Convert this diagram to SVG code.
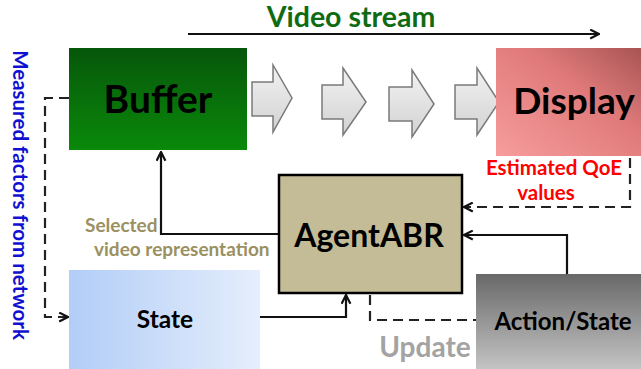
<svg xmlns="http://www.w3.org/2000/svg" width="641" height="369" viewBox="0 0 641 369">
<defs>
<style>
text{font-family:Lato,"Open Sans","Liberation Sans",sans-serif;font-weight:bold}
.lbl{fill:#000}
.sol{fill:none;stroke:#111;stroke-width:2.2}
.dash{fill:none;stroke:#222;stroke-width:2.2;stroke-dasharray:10 6}
.garrow{fill:url(#gArrow);stroke:#7a7a7a;stroke-width:1.5;stroke-linejoin:miter}
</style>
<marker id="ah" viewBox="0 0 10 10" refX="9" refY="5" markerWidth="11" markerHeight="11" markerUnits="userSpaceOnUse" orient="auto">
<path d="M1,1 L9,5 L1,9" fill="none" stroke="#111" stroke-width="2"/>
</marker>
<linearGradient id="gBuf" x1="0" y1="0" x2="0" y2="1"><stop offset="0" stop-color="#06560a"/><stop offset="1" stop-color="#0a890a"/></linearGradient>
<linearGradient id="gDisp" x1="0" y1="1" x2="1" y2="0"><stop offset="0" stop-color="#f79c9c"/><stop offset="0.6" stop-color="#e07a7a"/><stop offset="1" stop-color="#a85454"/></linearGradient>
<linearGradient id="gAct" x1="0" y1="0" x2="0" y2="1"><stop offset="0" stop-color="#686868"/><stop offset="1" stop-color="#c4c4c4"/></linearGradient>
<linearGradient id="gState" x1="0" y1="0" x2="1" y2="0"><stop offset="0" stop-color="#b2cdf7"/><stop offset="1" stop-color="#e5eefc"/></linearGradient>
<linearGradient id="gArrow" x1="0" y1="0" x2="0" y2="1"><stop offset="0" stop-color="#f2f2f2"/><stop offset="1" stop-color="#d2d2d2"/></linearGradient>
</defs>

<g id="connectors">
<line class="sol" x1="188" y1="34" x2="599" y2="34" marker-end="url(#ah)"/>
<polyline class="dash" points="69,98 45,98 45,317 68,317" marker-end="url(#ah)"/>
<polyline class="sol" points="279,234 161,234 161,152" marker-end="url(#ah)"/>
<polyline class="sol" points="260,317 346,317 346,295" marker-end="url(#ah)"/>
<polyline class="sol" points="567,274 567,235 464,235" marker-end="url(#ah)"/>
<polyline class="dash" points="630,158 630,207 464,207" marker-end="url(#ah)"/>
<polyline class="dash" points="370,295 370,320 476,320"/>
</g>

<g id="flow-arrows">
<path class="garrow" d="M252,82 L273,82 L273,65 L292,98 L273,132 L273,116 L252,116 Z"/>
<path class="garrow" d="M322,85 L343,85 L343,68 L366,102 L343,135 L343,119 L322,119 Z"/>
<path class="garrow" d="M389,87 L412,87 L412,70 L434,104 L412,137 L412,121 L389,121 Z"/>
<path class="garrow" d="M455,85 L477,85 L477,68 L499,102 L477,135 L477,119 L455,119 Z"/>
</g>

<g id="video-stream-label">
<text x="351" y="27" font-size="28.5" fill="#0f6b12" text-anchor="middle">Video stream</text>
</g>

<g id="buffer">
<rect x="69" y="48" width="178" height="102" fill="url(#gBuf)"/>
<text class="lbl" x="158" y="113" font-size="39" text-anchor="middle">Buffer</text>
</g>

<g id="display">
<rect x="496" y="48" width="145" height="108" fill="url(#gDisp)"/>
<text class="lbl" x="574" y="114" font-size="37" text-anchor="middle">Display</text>
</g>

<g id="agentabr">
<rect x="279" y="175" width="183" height="118" fill="#c4bc97" stroke="#000" stroke-width="2.5"/>
<text class="lbl" x="369" y="247" font-size="32" text-anchor="middle">AgentABR</text>
</g>

<g id="state">
<rect x="69" y="270" width="191" height="99" fill="url(#gState)"/>
<text class="lbl" x="165" y="328" font-size="24.5" text-anchor="middle">State</text>
</g>

<g id="action-state">
<rect x="476" y="274" width="165" height="95" fill="url(#gAct)"/>
<text class="lbl" x="563" y="330" font-size="24" text-anchor="middle">Action/State</text>
</g>

<g id="labels">
<text x="554" y="175" font-size="20.5" fill="#ff0000" text-anchor="middle">Estimated QoE</text>
<text x="546" y="200" font-size="20.5" fill="#ff0000" text-anchor="middle">values</text>
<text x="85" y="232" font-size="19" fill="#9b9060">Selected</text>
<text x="94" y="256" font-size="19" fill="#9b9060">video representation</text>
<text x="425" y="357" font-size="28" fill="#a3a3a3" text-anchor="middle">Update</text>
<text x="0" y="0" font-size="20.5" fill="#1010d0" text-anchor="middle" transform="translate(13,195) rotate(90)">Measured factors from network</text>
</g>
</svg>
